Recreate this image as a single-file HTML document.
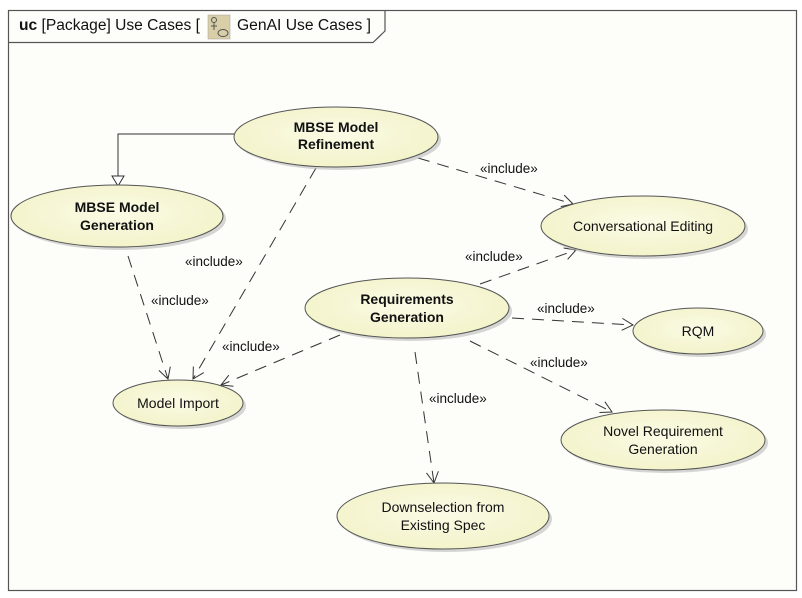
<!DOCTYPE html>
<html><head><meta charset="utf-8"><style>
html,body{margin:0;padding:0;background:#fff;}
svg{display:block;font-family:"Liberation Sans",Arial,sans-serif;}
</style></head><body>
<svg width="802" height="598" viewBox="0 0 802 598" xmlns="http://www.w3.org/2000/svg">
<defs>
<radialGradient id="g" cx="0.5" cy="0.45" r="0.6">
<stop offset="0" stop-color="#fbfbe6"/><stop offset="1" stop-color="#f2f2c8"/>
</radialGradient>
<marker id="a" markerWidth="14" markerHeight="14" refX="12" refY="7" orient="auto" markerUnits="userSpaceOnUse">
<path d="M1,1 L12,7 L1,13" fill="none" stroke="#333" stroke-width="1"/>
</marker>
</defs>
<rect x="0" y="0" width="802" height="598" fill="#fff"/>
<rect x="8.5" y="10.5" width="788" height="580" fill="#fdfdfa" stroke="#555" stroke-width="1.2"/>
<path d="M8.5,42.5 H373 L385,31 V10.5" fill="none" stroke="#555" stroke-width="1.2"/>
<text x="19" y="30" font-size="15.5" fill="#111" textLength="181" lengthAdjust="spacingAndGlyphs"><tspan font-weight="bold">uc</tspan> [Package] Use Cases [</text>
<rect x="208" y="15" width="22" height="24" fill="#d8cfa8" stroke="#a99" stroke-width="0.5"/>
<circle cx="214" cy="20" r="2.5" fill="none" stroke="#555"/>
<path d="M214,23 V30 M211,26 H217" stroke="#555" fill="none"/>
<ellipse cx="223" cy="33" rx="5" ry="3.5" fill="none" stroke="#555"/>
<text x="237" y="30" font-size="15.5" fill="#111" textLength="134" lengthAdjust="spacingAndGlyphs">GenAI Use Cases  ]</text>

<g fill="none" stroke="#333" stroke-width="1">
<path d="M235,134 H118 V176"/>
<path d="M112,176 L124,176 L118,186 Z" fill="#fff"/>
<g stroke-dasharray="12,8" marker-end="url(#a)">
<line x1="418" y1="158" x2="573" y2="204"/>
<line x1="316" y1="168" x2="193" y2="379"/>
<line x1="128" y1="256" x2="168" y2="379"/>
<line x1="480" y1="284" x2="576" y2="250"/>
<line x1="512" y1="318" x2="633" y2="325"/>
<line x1="470" y1="341" x2="612" y2="412"/>
<line x1="415" y1="352" x2="434" y2="483"/>
<line x1="340" y1="335" x2="221" y2="385"/>
</g>
</g>

<g font-size="13.5" fill="#111">
<text x="480" y="173">«include»</text>
<text x="185" y="266">«include»</text>
<text x="151" y="305">«include»</text>
<text x="465" y="261">«include»</text>
<text x="537" y="313">«include»</text>
<text x="530" y="367">«include»</text>
<text x="429" y="403">«include»</text>
<text x="222" y="351">«include»</text>
</g>

<g stroke="#555" stroke-width="1" fill="url(#g)">
<g fill="#bbb" stroke="none" opacity="0.6">
<ellipse cx="339" cy="140" rx="102" ry="30"/>
<ellipse cx="120" cy="219" rx="106" ry="31"/>
<ellipse cx="646" cy="229" rx="102" ry="30"/>
<ellipse cx="410" cy="311" rx="102" ry="30"/>
<ellipse cx="701" cy="334" rx="65" ry="23"/>
<ellipse cx="181" cy="406" rx="65" ry="23"/>
<ellipse cx="666" cy="443" rx="102" ry="30"/>
<ellipse cx="446" cy="519" rx="106" ry="33"/>
</g>
<ellipse cx="336" cy="137" rx="102" ry="30"/>
<ellipse cx="117" cy="216" rx="106" ry="31"/>
<ellipse cx="643" cy="226" rx="102" ry="30"/>
<ellipse cx="407" cy="308" rx="102" ry="30"/>
<ellipse cx="698" cy="331" rx="65" ry="23"/>
<ellipse cx="178" cy="403" rx="65" ry="23"/>
<ellipse cx="663" cy="440" rx="102" ry="30"/>
<ellipse cx="443" cy="516" rx="106" ry="33"/>
</g>

<g font-size="14" fill="#111" text-anchor="middle">
<text x="336" y="132" font-weight="bold">MBSE Model</text>
<text x="336" y="149" font-weight="bold">Refinement</text>
<text x="117" y="212" font-weight="bold">MBSE Model</text>
<text x="117" y="230" font-weight="bold">Generation</text>
<text x="407" y="304" font-weight="bold">Requirements</text>
<text x="407" y="322" font-weight="bold">Generation</text>
<text x="643" y="231">Conversational Editing</text>
<text x="698" y="336">RQM</text>
<text x="178" y="408">Model Import</text>
<text x="663" y="436">Novel Requirement</text>
<text x="663" y="454">Generation</text>
<text x="443" y="512">Downselection from</text>
<text x="443" y="530">Existing Spec</text>
</g>
</svg>
</body></html>
